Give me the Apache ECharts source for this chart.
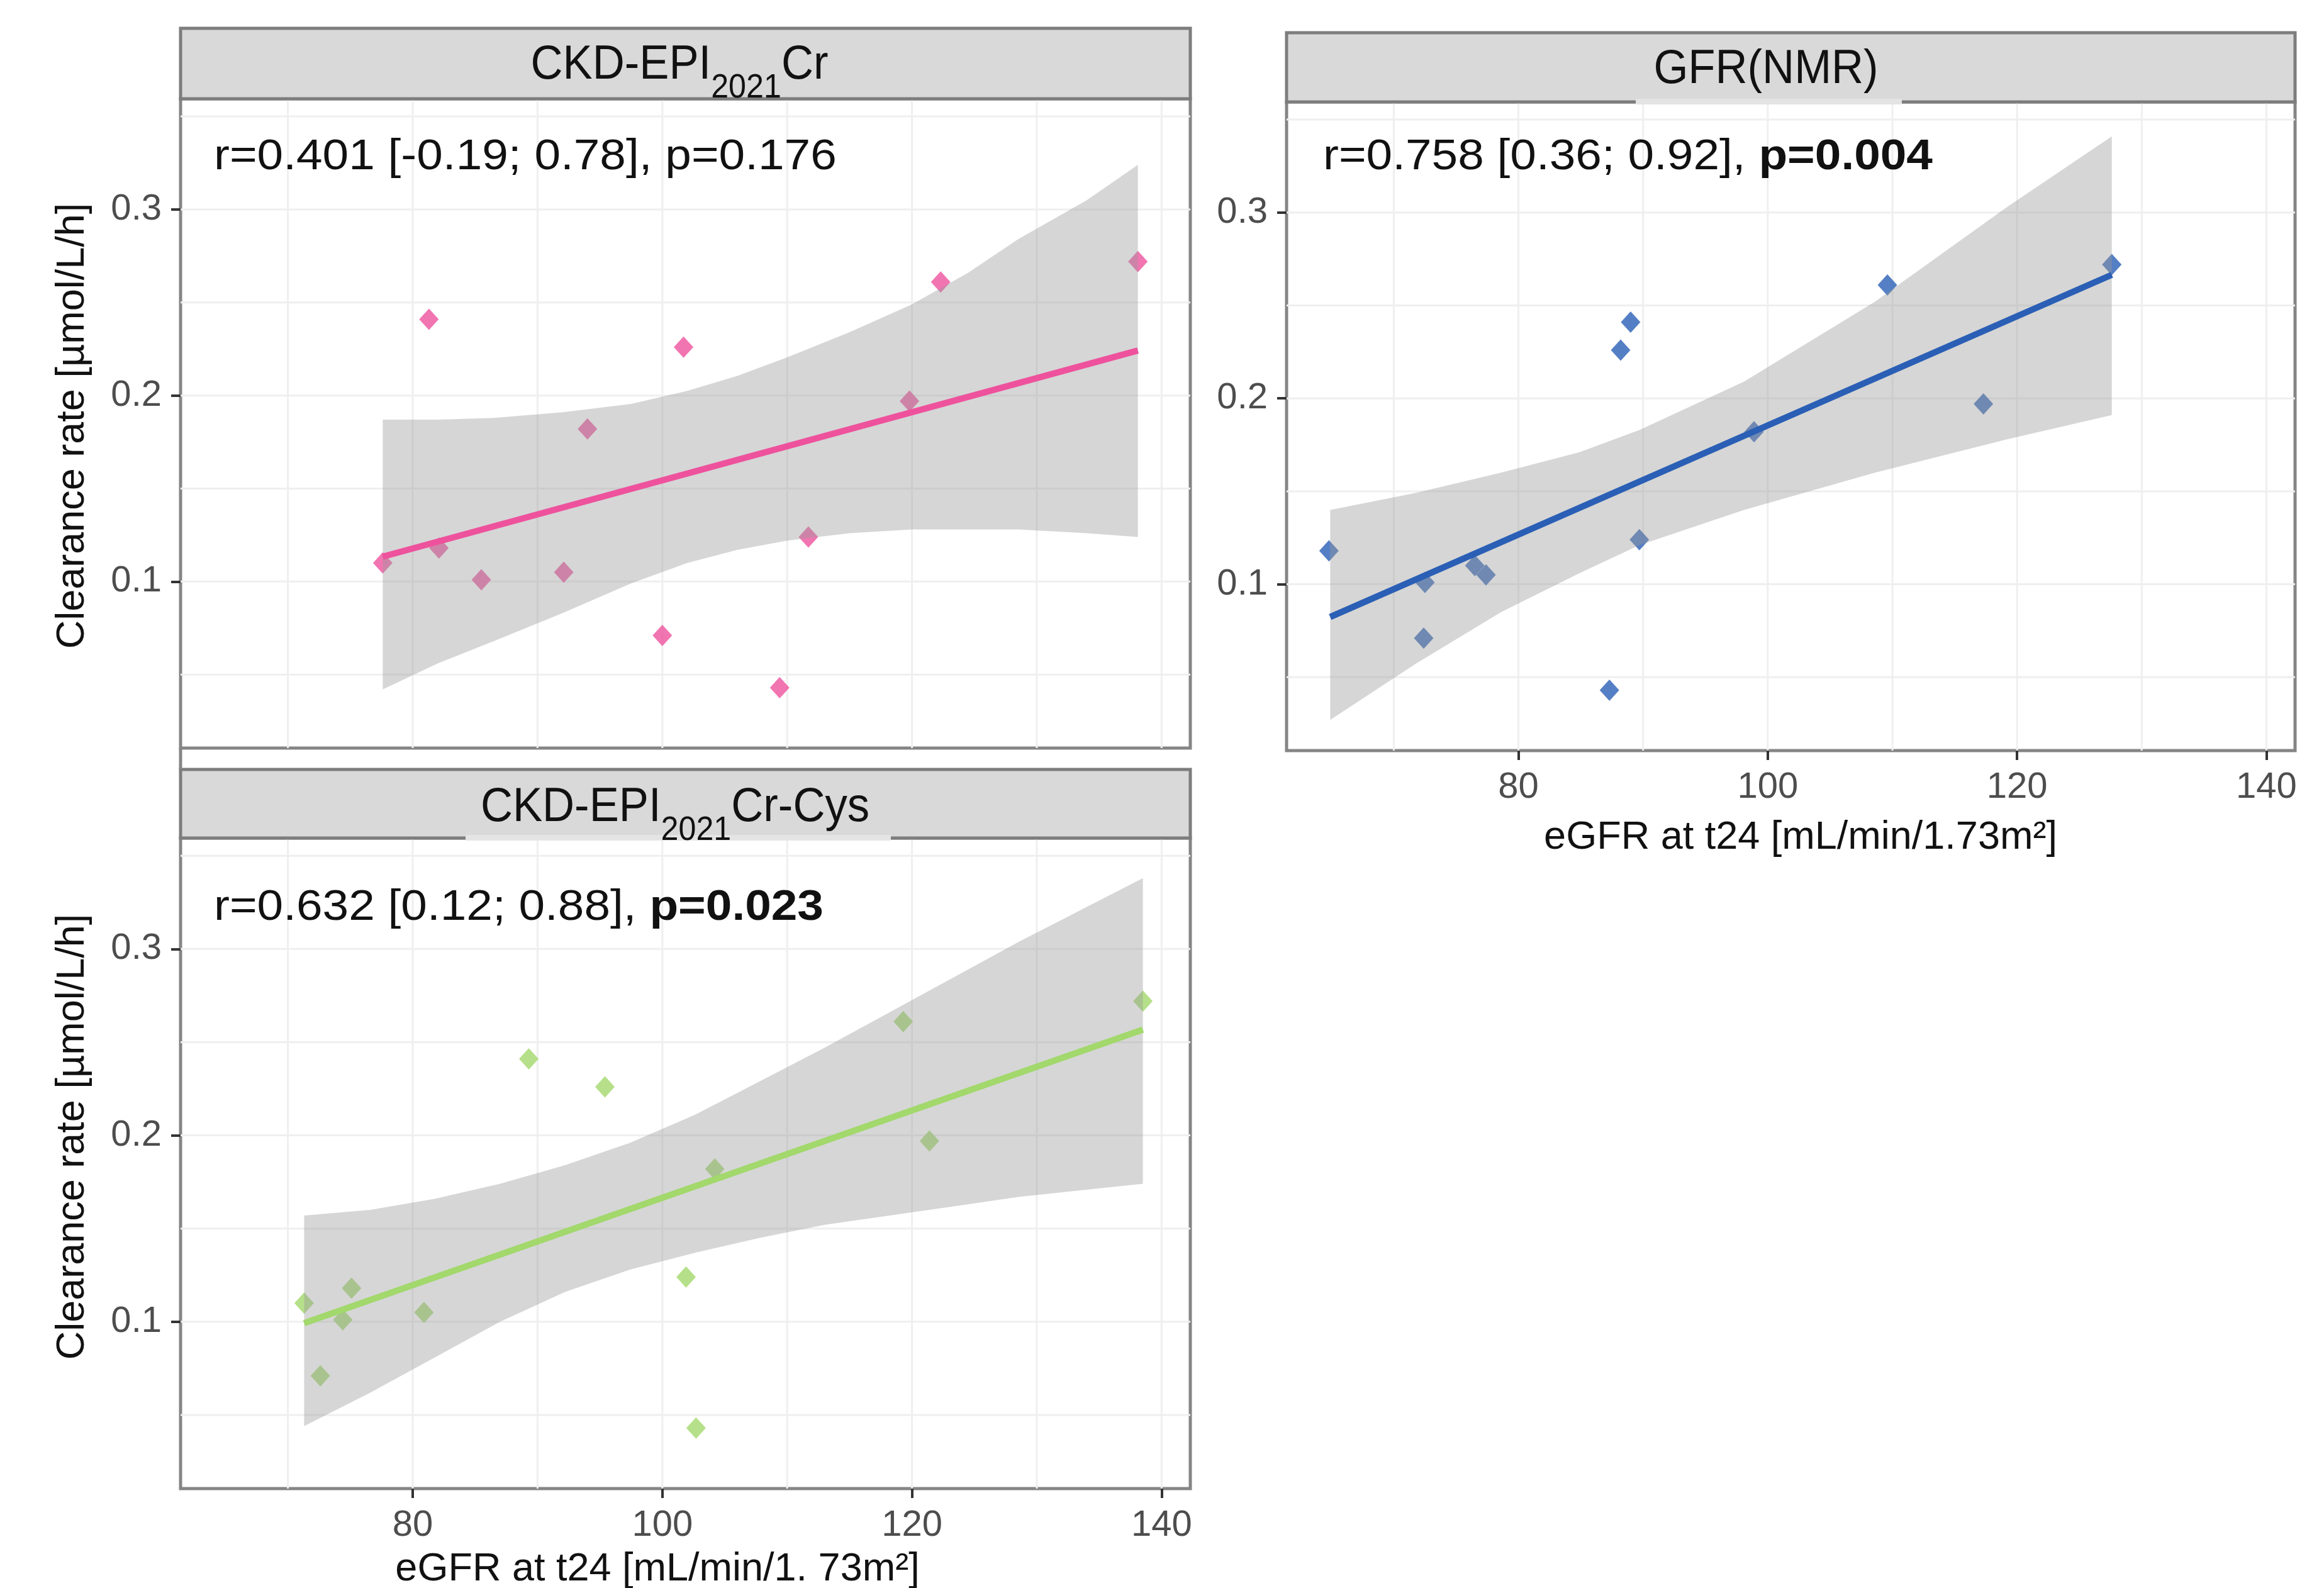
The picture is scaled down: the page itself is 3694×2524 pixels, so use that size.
<!DOCTYPE html>
<html>
<head>
<meta charset="utf-8">
<script src="https://cdn.jsdelivr.net/npm/echarts@6/dist/echarts.min.js"></script>
<style>
  html, body { margin: 0; padding: 0; background: #fff; }
  #chart { width: 3694px; height: 2524px; }
</style>
</head>
<body>
<div id="chart"></div>
<script>
  // clearance rate of the same 13 subjects, shared by all panels
  const clearance = [0.043, 0.071, 0.101, 0.105, 0.110, 0.118, 0.124, 0.182, 0.197, 0.226, 0.241, 0.261, 0.272]
  // eGFR at t24 for each estimate, same order as clearance
  const egfrCr = [109.4, 100.0, 85.5, 92.1, 77.6, 82.1, 111.7, 94.0, 119.8, 101.7, 81.3, 122.3, 138.1]
  const egfrNmr = [87.3, 72.4, 72.5, 77.4, 76.5, 64.8, 89.7, 98.9, 117.3, 88.2, 89.0, 109.6, 127.6]
  const egfrCrCys = [102.7, 72.6, 74.4, 80.9, 71.3, 75.1, 101.9, 104.2, 121.4, 95.4, 89.3, 119.3, 138.5]

  // fitted lines (end points)
  const fitCrX = [77.6, 138.1]
  const fitCrY = [0.1134, 0.2242]
  const fitNmrX = [64.9, 127.6]
  const fitNmrY = [0.0824, 0.2665]
  const fitCysX = [71.3, 138.5]
  const fitCysY = [0.0993, 0.2567]

  // confidence bands
  const bandCrX = [77.6, 82, 86.5, 92, 97.5, 102, 106, 110, 115, 120, 124.5, 128.5, 134, 138.1]
  const bandCrUp = [0.187, 0.187, 0.188, 0.191, 0.1955, 0.2025, 0.2105, 0.2205, 0.234, 0.249, 0.266, 0.284, 0.305, 0.324]
  const bandCrLo = [0.042, 0.056, 0.068, 0.083, 0.099, 0.110, 0.117, 0.122, 0.126, 0.128, 0.128, 0.128, 0.126, 0.124]
  const bandNmrX = [64.9, 71.7, 78.6, 84.9, 89.7, 98.1, 108.6, 119.2, 127.6]
  const bandNmrUp = [0.140, 0.149, 0.160, 0.171, 0.183, 0.209, 0.252, 0.303, 0.341]
  const bandNmrLo = [0.027, 0.057, 0.085, 0.106, 0.121, 0.140, 0.160, 0.178, 0.191]
  const bandCysX = [71.3, 76.6, 81.8, 87.0, 92.2, 97.4, 102.6, 107.8, 113.0, 118.2, 123.4, 128.6, 138.5]
  const bandCysUp = [0.157, 0.160, 0.166, 0.174, 0.184, 0.196, 0.211, 0.229, 0.247, 0.266, 0.285, 0.304, 0.338]
  const bandCysLo = [0.044, 0.062, 0.081, 0.100, 0.116, 0.128, 0.137, 0.145, 0.152, 0.157, 0.162, 0.167, 0.174]

  const xTicks = [80, 100, 120, 140]
  const yTicks = [0.1, 0.2, 0.3]
  const xGridVals = [70, 80, 90, 100, 110, 120, 130, 140]
  const yGridVals = [0.05, 0.1, 0.15, 0.2, 0.25, 0.3, 0.35]
  const xRange = [61.4, 142.3]
  const yRange = [0.0105, 0.3595]

  const FONT = "'Liberation Sans', Arial, sans-serif"

  const panels = [
    { left: 287, top: 157, width: 1605, height: 1032, color: '#ee529d', egfr: egfrCr,
      fitX: fitCrX, fitY: fitCrY, bandX: bandCrX, bandUp: bandCrUp, bandLo: bandCrLo, showX: false },
    { left: 2045, top: 162, width: 1603, height: 1031, color: '#2a5fb5', egfr: egfrNmr,
      fitX: fitNmrX, fitY: fitNmrY, bandX: bandNmrX, bandUp: bandNmrUp, bandLo: bandNmrLo, showX: true },
    { left: 287, top: 1332, width: 1605, height: 1034, color: '#a2d86c', egfr: egfrCrCys,
      fitX: fitCysX, fitY: fitCysY, bandX: bandCysX, bandUp: bandCysUp, bandLo: bandCysLo, showX: true }
  ]

  const series = []
  panels.forEach((p, i) => {
    // light grid lines
    series.push({
      type: 'custom',
      xAxisIndex: i,
      yAxisIndex: i,
      z: 1,
      silent: true,
      data: [[xRange[0], yRange[0]]],
      renderItem (params, api) {
        const children = []
        xGridVals.forEach(v => {
          const a = api.coord([v, yRange[0]])
          const b = api.coord([v, yRange[1]])
          children.push({ type: 'line', shape: { x1: a[0], y1: a[1], x2: b[0], y2: b[1] }, style: { stroke: '#efefef', lineWidth: 3 } })
        })
        yGridVals.forEach(v => {
          const a = api.coord([xRange[0], v])
          const b = api.coord([xRange[1], v])
          children.push({ type: 'line', shape: { x1: a[0], y1: a[1], x2: b[0], y2: b[1] }, style: { stroke: '#efefef', lineWidth: 3 } })
        })
        return { type: 'group', children }
      }
    })
    series.push({
      type: 'scatter',
      xAxisIndex: i,
      yAxisIndex: i,
      z: 2,
      symbol: 'diamond',
      symbolSize: [31, 34],
      itemStyle: { color: p.color },
      data: p.egfr.map((x, k) => [x, clearance[k]])
    })
    // confidence band drawn over the points
    series.push({
      type: 'custom',
      xAxisIndex: i,
      yAxisIndex: i,
      z: 3,
      silent: true,
      data: [[p.bandX[0], p.bandUp[0]]],
      renderItem (params, api) {
        const pts = p.bandX.map((x, k) => api.coord([x, p.bandUp[k]]))
        for (let k = p.bandX.length - 1; k >= 0; k--) {
          pts.push(api.coord([p.bandX[k], p.bandLo[k]]))
        }
        return { type: 'polygon', shape: { points: pts, smooth: 0 }, style: { fill: 'rgba(153,153,153,0.4)' } }
      }
    })
    series.push({
      type: 'line',
      xAxisIndex: i,
      yAxisIndex: i,
      z: 4,
      showSymbol: false,
      lineStyle: { color: p.color, width: 10 },
      data: p.fitX.map((x, k) => [x, p.fitY[k]])
    })
  })

  const stripText = (x, y, text) => ({
    type: 'text', x, y, z: 101, scaleX: 0.93,
    style: { text, rich: stripRich, align: 'center', verticalAlign: 'middle' }
  })
  const stripRich = {
    a: { fontSize: 76, fontFamily: FONT, fill: '#111', lineHeight: 90 },
    s: { fontSize: 54, fontFamily: FONT, fill: '#111', lineHeight: 60, padding: [72, 0, 0, 0] }
  }
  const noteRich = {
    n: { fontSize: 68, fontFamily: FONT, fill: '#111' },
    b: { fontSize: 68, fontFamily: FONT, fill: '#111', fontWeight: 'bold' }
  }
  const note = (x, y, text) => ({
    type: 'text', x, y, z: 101, scaleX: 1.1,
    style: { text, rich: noteRich, align: 'left', verticalAlign: 'middle' }
  })
  const axisTitle = (x, y, text, rot) => ({
    type: 'text', x, y, z: 101, rotation: rot,
    style: { text, align: 'center', verticalAlign: 'middle', font: '63px ' + FONT, fill: '#111' }
  })

  const graphic = [
    { type: 'rect', z: 100, shape: { x: 287, y: 45, width: 1605, height: 112 }, style: { fill: '#d9d9d9', stroke: '#7d7d7d', lineWidth: 5 } },
    { type: 'rect', z: 100, shape: { x: 2045, y: 52, width: 1603, height: 110 }, style: { fill: '#d9d9d9', stroke: '#7d7d7d', lineWidth: 5 } },
    { type: 'rect', z: 100, shape: { x: 287, y: 1223, width: 1605, height: 109 }, style: { fill: '#d9d9d9', stroke: '#7d7d7d', lineWidth: 5 } },
    // pasted label boxes cut the strip edge
    { type: 'rect', z: 100, shape: { x: 2600, y: 157, width: 423, height: 9 }, style: { fill: '#e4e4e4' } },
    { type: 'rect', z: 100, shape: { x: 740, y: 1327, width: 676, height: 9 }, style: { fill: '#e4e4e4' } },
    { type: 'line', z: 100, shape: { x1: 287, y1: 1189, x2: 287, y2: 1223 }, style: { stroke: '#858585', lineWidth: 5 } },
    stripText(1080, 104, '{a|CKD-EPI}{s|2021}{a|Cr}'),
    stripText(2807, 111, '{a|GFR(NMR)}'),
    stripText(1073, 1284, '{a|CKD-EPI}{s|2021}{a|Cr-Cys}'),
    note(340, 250, '{n|r=0.401 [-0.19; 0.78], p=0.176}'),
    note(2103, 250, '{n|r=0.758 [0.36; 0.92], }{b|p=0.004}'),
    note(340, 1443, '{n|r=0.632 [0.12; 0.88], }{b|p=0.023}'),
    axisTitle(116, 677, 'Clearance rate [µmol/L/h]', Math.PI / 2),
    axisTitle(116, 1807, 'Clearance rate [µmol/L/h]', Math.PI / 2),
    axisTitle(2862, 1332, 'eGFR at t24 [mL/min/1.73m²]', 0),
    axisTitle(1045, 2495, 'eGFR at t24 [mL/min/1. 73m²]', 0)
  ]

  const chart = echarts.init(document.getElementById('chart'))
  chart.setOption({
    animation: false,
    backgroundColor: '#fff',
    grid: panels.map(p => ({
      left: p.left, top: p.top, width: p.width, height: p.height,
      show: true, backgroundColor: '#fff', borderColor: '#858585', borderWidth: 5
    })),
    xAxis: panels.map((p, i) => ({
      gridIndex: i,
      type: 'value',
      min: xRange[0],
      max: xRange[1],
      splitLine: { show: false },
      axisLine: { show: false },
      axisTick: { show: p.showX, customValues: xTicks, length: 15, lineStyle: { color: '#333', width: 4 } },
      axisLabel: { show: p.showX, customValues: xTicks, margin: 30, fontSize: 58, fontFamily: FONT, color: '#4d4d4d' }
    })),
    yAxis: panels.map((p, i) => ({
      gridIndex: i,
      type: 'value',
      min: yRange[0],
      max: yRange[1],
      splitLine: { show: false },
      axisLine: { show: false },
      axisTick: { show: true, customValues: yTicks, length: 15, lineStyle: { color: '#333', width: 4 } },
      axisLabel: { show: true, customValues: yTicks, margin: 30, fontSize: 58, fontFamily: FONT, color: '#4d4d4d' }
    })),
    series,
    graphic
  })
</script>
</body>
</html>
